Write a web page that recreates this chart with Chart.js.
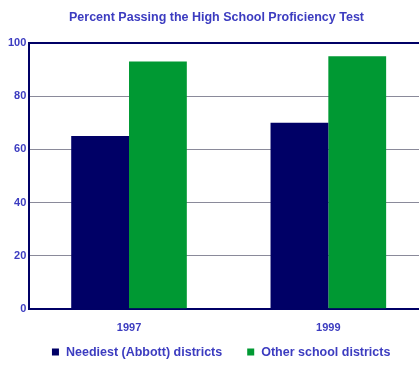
<!DOCTYPE html>
<html>
<head>
<meta charset="utf-8">
<script src="https://cdn.jsdelivr.net/npm/chart.js@4"></script>
<style>
  html, body { margin: 0; padding: 0; background: #fff; overflow: hidden; }
  #wrap { position: relative; width: 428px; height: 372px; }
</style>
</head>
<body>
<div id="wrap"><canvas id="chart"></canvas></div>
<script>
// data
const years = ['1997', '1999'];
const abbott = [65, 70];
const other = [93, 95];
const yTicks = [0, 20, 40, 60, 80, 100];

const navy = '#000066';
const green = '#009933';
const labelBlue = '#3c3cc0';
const legendFont = 'bold 12.5px Arial';

// the built-in legend can't have a wide item gap without a tall box,
// so draw a simple one under the axis labels
const bottomLegend = {
  id: 'bottomLegend',
  afterDraw(chart) {
    const c = chart.ctx;
    const sets = chart.data.datasets;
    const box = 7, gap = 7, itemGap = 25;
    c.save();
    c.font = legendFont;
    c.textBaseline = 'middle';
    const widths = sets.map(ds => box + gap + c.measureText(ds.label).width);
    const total = widths.reduce((a, b) => a + b, 0) + itemGap * (sets.length - 1);
    let x = (chart.chartArea.left + 413) / 2 - total / 2;
    const y = 352;
    sets.forEach((ds, i) => {
      c.fillStyle = ds.backgroundColor;
      c.fillRect(x, y - box / 2, box, box);
      c.fillStyle = labelBlue;
      c.fillText(ds.label, x + box + gap, y + 0.5);
      x += widths[i] + itemGap;
    });
    c.restore();
  }
};

const ctx = document.getElementById('chart');
new Chart(ctx, {
  type: 'bar',
  data: {
    labels: years,
    datasets: [
      { label: 'Neediest (Abbott) districts', data: abbott, backgroundColor: navy },
      { label: 'Other school districts', data: other, backgroundColor: green }
    ]
  },
  options: {
    responsive: true,
    maintainAspectRatio: false,
    animation: false,
    datasets: { bar: { categoryPercentage: 0.58, barPercentage: 1 } },
    layout: { padding: { left: 5, right: 0, top: 4, bottom: 32 } },
    scales: {
      x: {
        grid: { display: false },
        border: { color: navy, width: 2 },
        ticks: { color: labelBlue, font: { family: 'Arial', size: 11, weight: 'bold' }, padding: 5 }
      },
      y: {
        min: 0,
        max: 100,
        afterBuildTicks: axis => { axis.ticks = yTicks.map(v => ({ value: v })); },
        grid: {
          color: c => (c.tick && c.tick.value === 100 ? navy : '#8a8a9a'),
          lineWidth: c => (c.tick && c.tick.value === 100 ? 2 : 1),
          drawTicks: false
        },
        border: { color: navy, width: 2 },
        ticks: { color: labelBlue, font: { family: 'Arial', size: 11, weight: 'bold' }, padding: 3 }
      }
    },
    plugins: {
      title: {
        display: true,
        text: 'Percent Passing the High School Proficiency Test',
        color: labelBlue,
        font: { family: 'Arial', size: 12.5, weight: 'bold' },
        padding: { top: 6, bottom: 18 }
      },
      legend: { display: false },
      tooltip: { enabled: false }
    }
  },
  plugins: [bottomLegend]
});
</script>
</body>
</html>
